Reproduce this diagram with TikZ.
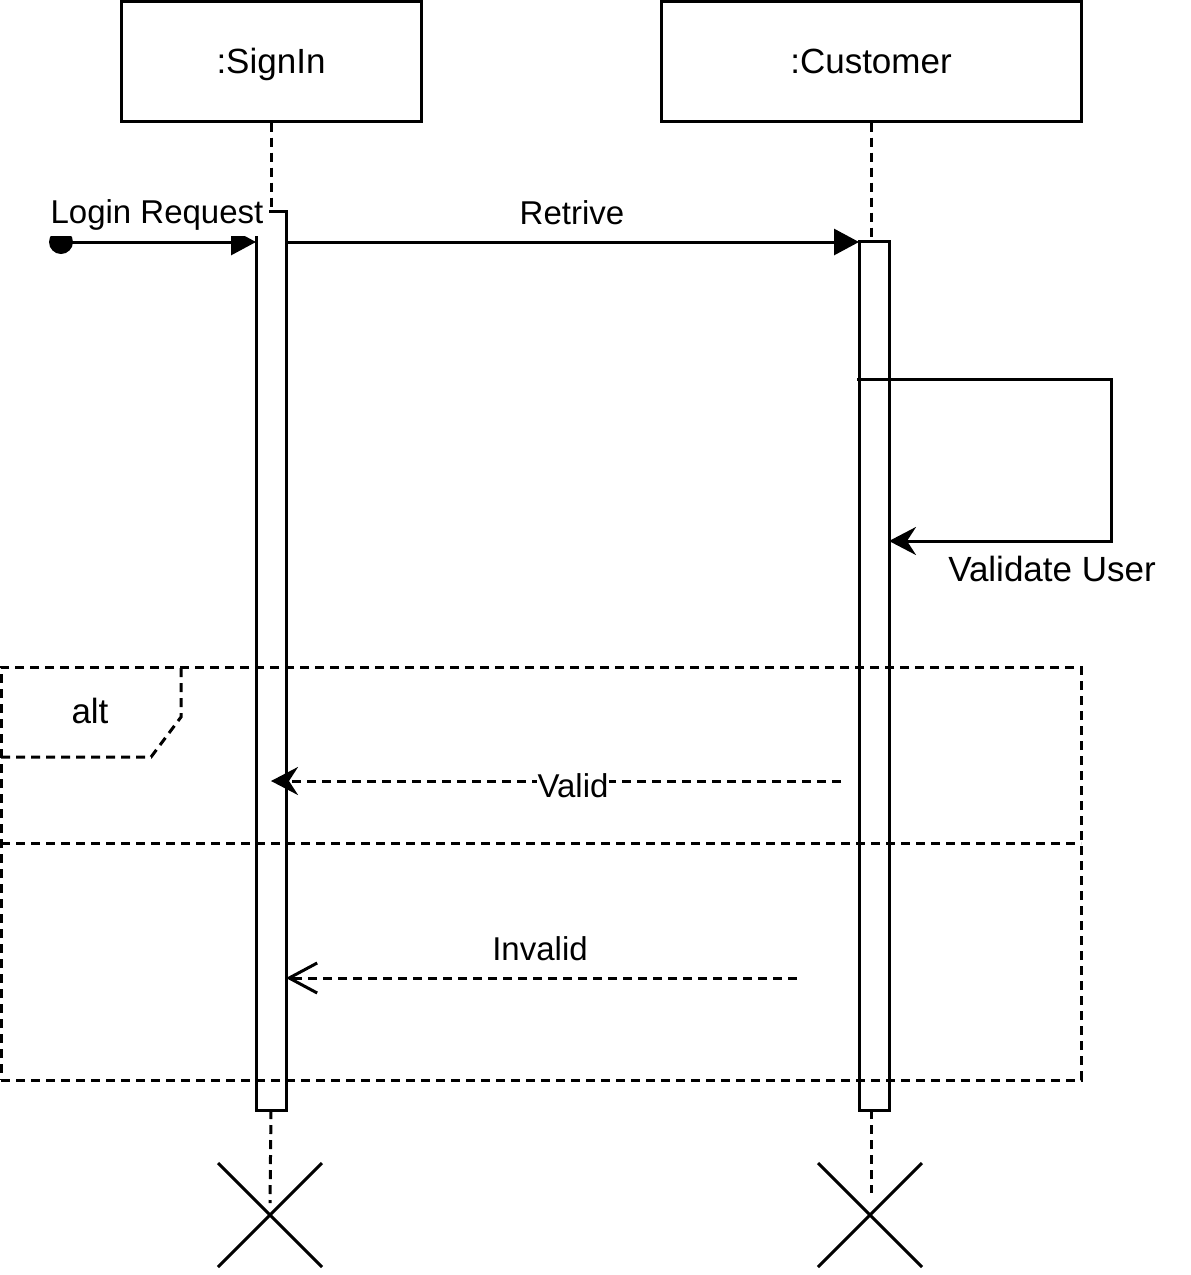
\documentclass[tikz,border=0pt]{standalone}
\usepackage{fontspec}
\setmainfont{Liberation Sans}
\usetikzlibrary{arrows.meta,calc}
\begin{document}
\begin{tikzpicture}[x=1pt,y=-1pt,line width=3pt,
  objbox/.style={draw, fill=white, inner sep=0pt, text height=25pt, text depth=0pt, font=\fontsize{35}{40}\selectfont},
  actbox/.style={draw, fill=white, inner sep=0pt, outer sep=0pt, minimum width=30pt},
  dsh/.style={dash pattern=on 9pt off 6pt},
  msgfont/.style={font=\fontsize{33}{38}\selectfont},
  bigfont/.style={font=\fontsize{35}{40}\selectfont},
  solidtip/.style={-{Triangle[length=25pt,width=26pt]}},
  stealthtip/.style={-{Stealth[length=27pt,width=28pt,inset=9pt]}},
  opentip/.style={-{Straight Barb[length=28pt,width=30pt,line width=3pt]}},
]
\useasboundingbox (0,0) rectangle (1191,1275);

% objects
\node[objbox, minimum width=300pt, minimum height=120pt] (signin) at (271,61) {:SignIn};
\node[objbox, minimum width=420pt, minimum height=120pt] (customer) at (871,61) {:Customer};

% activation bars
\node[actbox, minimum height=899pt] (actS) at (271,660.5) {};
\node[actbox, minimum height=869pt] (actC) at (874,675.5) {};

% destruction marks
\coordinate (xS) at (270,1215);
\coordinate (xC) at (870,1215);
\draw (xS) +(-52,-52) -- +(52,52);
\draw (xS) +(52,-52) -- +(-52,52);
\draw (xC) +(-52,-52) -- +(52,52);
\draw (xC) +(52,-52) -- +(-52,52);

% lifelines
\draw[dsh] (signin.south) -- (actS.north);
\draw[dsh] (customer.south) -- (customer.south |- actC.north);
\draw[dsh] (actS.south) -- ($(xS)+(0,-12)$);
\draw[dsh] (customer.south |- actC.south) -- ($(xC)+(1,-22)$);

% Login Request (found message)
\coordinate (start) at (61,242);
\fill (start) circle (12pt);
\draw[solidtip] (start) -- (actS.west |- start);
\node[msgfont, fill=white, inner xsep=6pt, inner ysep=6pt] (lbLogin) at (157,215) {Login Request};

% Retrive
\draw[solidtip] (actS.east |- start) -- (actC.west |- start);
\node[msgfont] (lbRet) at (572,213) {Retrive};

% self message Validate User
\draw[stealthtip] ($(actC.north west)+(-2,138)$) -| ($(actC.north east)+(222,300)$) -- ($(actC.north east)+(0,300)$);
\node[bigfont] (lbVal) at (1052,569) {Validate User};

% alt frame
\node[draw, dsh, minimum width=1080pt, minimum height=413pt, inner sep=0pt, outer sep=0pt] (alt) at (541,873.5) {};
\draw[dsh] ($(alt.north west)+(0,90)$) -- ++(150,0) -- ++(30,-40) -- ($(alt.north west)+(180,0)$);
\draw[dsh] ($(alt.north west)+(0,176)$) -- ($(alt.north east)+(0,176)$);
\node[bigfont] (lbAlt) at (90,711) {alt};

% Valid
\coordinate (vR) at (841,781);
\draw[dsh, stealthtip] (vR) -- (actS.center |- vR);
\node[msgfont, fill=white, inner xsep=1pt, inner ysep=0pt] (lbValid) at (573,786) {Valid};

% Invalid
\coordinate (iR) at (797,978);
\draw[dsh, opentip] (iR) -- (actS.east |- iR);
\node[msgfont] (lbInv) at (540,949) {Invalid};
\end{tikzpicture}
\end{document}
